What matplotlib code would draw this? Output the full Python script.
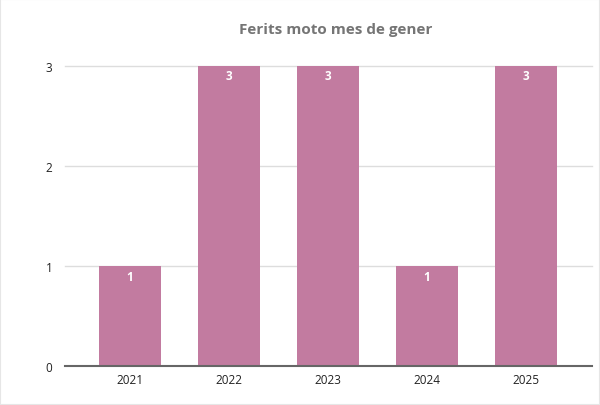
import matplotlib.pyplot as plt
from matplotlib.patches import Rectangle

years = ['2021', '2022', '2023', '2024', '2025']
ferits = [1, 3, 3, 1, 3]

plt.rcParams['font.family'] = ['Open Sans', 'DejaVu Sans']

fig = plt.figure(figsize=(6, 4.06), dpi=100)
ax = fig.add_axes([0.108, 0.096, 0.879, 0.739])

x = range(len(years))
bars = ax.bar(x, ferits, width=0.63, color='#c27ba0', zorder=3)

for b, v in zip(bars, ferits):
    ax.text(b.get_x() + b.get_width() / 2, v - 0.1, str(v),
            ha='center', va='center', color='white',
            fontsize=8.5, fontweight='bold', zorder=4)

ax.set_xlim(-0.66, 4.67)
ax.set_ylim(0, 3)
ax.set_yticks([0, 1, 2, 3])
ax.set_xticks(list(x))
ax.set_xticklabels(years)
ax.tick_params(length=0, labelsize=8.5, colors='#222222')
ax.tick_params(axis='x', pad=5)
ax.tick_params(axis='y', pad=9)

for y in [1, 2, 3]:
    ax.axhline(y, color='#dddddd', lw=1, zorder=1, clip_on=False)
ax.axhline(0, color='#666666', lw=1.5, zorder=5, clip_on=False)

for s in ax.spines.values():
    s.set_visible(False)

fig.text(0.559, 0.925, 'Ferits moto mes de gener', ha='center', va='center',
         fontsize=11, fontweight='bold', color='#757575')

fig.patches.append(Rectangle((0, 0), 1, 1, transform=fig.transFigure,
                             fill=False, edgecolor='#e6e6e6', lw=1.5))

fig.savefig('out.png', dpi=100)
